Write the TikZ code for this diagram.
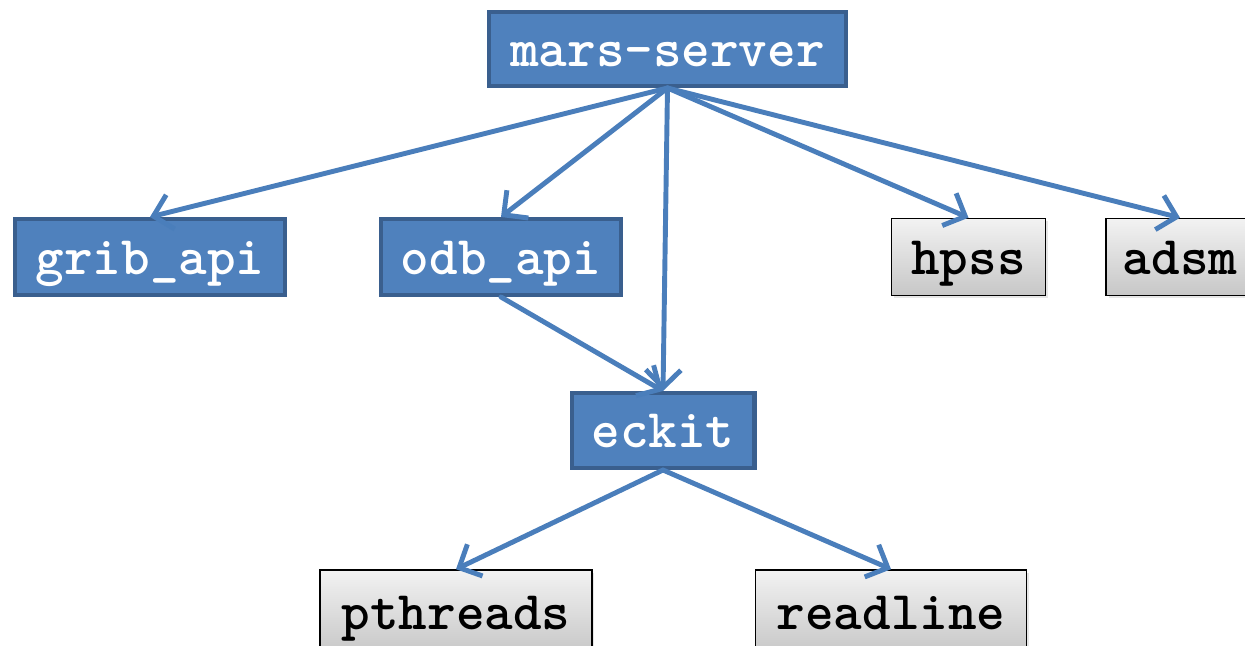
\documentclass[tikz,border=0pt]{standalone}
\usepackage{fontspec}
\usetikzlibrary{arrows.meta,shadows}
\definecolor{boxblue}{HTML}{4F81BD}
\definecolor{boxedge}{HTML}{3A5F8E}
\definecolor{linkblue}{HTML}{4A7EBB}
\tikzset{
	lib/.style={rectangle, inner sep=0pt, text height=22pt, text depth=2.6pt,
		font=\fontsize{31}{34}\selectfont\ttfamily\bfseries},
	bluebox/.style={lib, fill=boxblue, draw=boxedge, line width=2.3pt, text=white},
	greybox/.style={lib, draw=black, line width=0.9pt, top color=black!5, bottom color=black!22, text=black,
		drop shadow={opacity=0.2, shadow xshift=0.05cm, shadow yshift=-0.05cm}},
	dep/.style={draw=linkblue, line width=2.8pt, line cap=round, -{Straight Barb[length=10pt,width=20pt]}}
}
\begin{document}
\begin{tikzpicture}[x=0.02cm, y=-0.02cm]
		%%%%% START %%%%%
		\useasboundingbox (0,0) rectangle (1245,646);
		\clip (0,0) rectangle (1245,646);
		
		\node[bluebox, minimum width=7.14cm, minimum height=1.48cm] (mars) at (667.5,49) {mars-server};
		
		\node[bluebox, minimum width=5.4cm, minimum height=1.52cm] (grib) at (150,257) {grib\_api};
		\node[bluebox, minimum width=4.8cm, minimum height=1.52cm] (odb) at (501,257) {odb\_api};
		\node[greybox, minimum width=3.08cm, minimum height=1.54cm] (hpss) at (968.5,257) {hpss};
		\node[greybox, minimum width=2.96cm, minimum height=1.54cm] (adsm) at (1180,257) {adsm};
		
		\node[bluebox, minimum width=3.66cm, minimum height=1.5cm] (eckit) at (663,430.5) {eckit};
		
		\node[greybox, minimum width=5.44cm, minimum height=1.68cm] (pthreads) at (456,612) {pthreads};
		\node[greybox, minimum width=5.42cm, minimum height=1.68cm] (readline) at (891,612) {readline};
		
		\draw[dep] (mars.south) -- (grib.north);
		\draw[dep] (mars.south) -- (odb.north);
		\draw[dep] (mars.south) -- (eckit.north);
		\draw[dep] (mars.south) -- (hpss.north);
		\draw[dep] (mars.south) -- (adsm.north);
		\draw[dep] (odb.south) -- (eckit.north);
		\draw[dep] (eckit.south) -- (pthreads.north);
		\draw[dep] (eckit.south) -- (readline.north);
		
		%%%%% END %%%%%
\end{tikzpicture}
\end{document}
